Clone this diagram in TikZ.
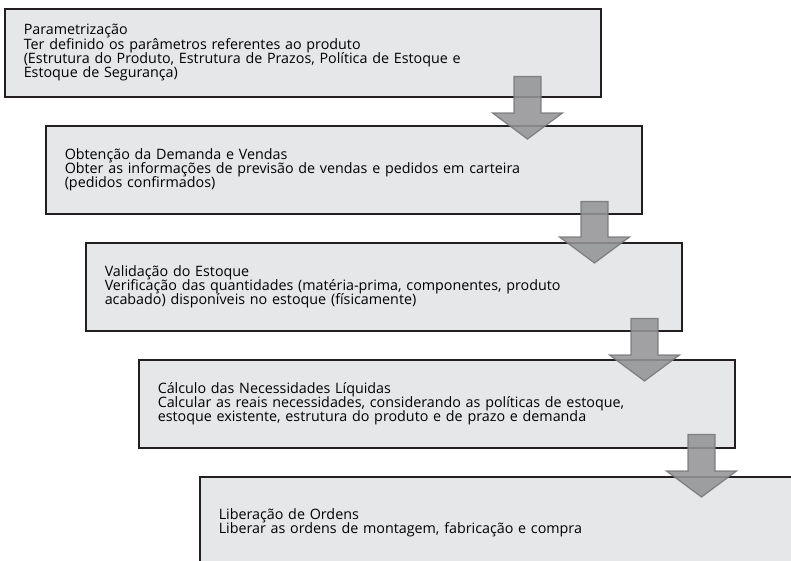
\documentclass[tikz,border=0pt]{standalone}
\usepackage{fontspec}
\setmainfont{Open Sans}
\usepackage{xcolor}
\usetikzlibrary{positioning,calc}
\definecolor{boxfill}{HTML}{E6E7E8}
\definecolor{boxline}{HTML}{231F20}
\definecolor{arrowfill}{HTML}{949496}
\definecolor{arrowline}{HTML}{767678}

% seta larga entre duas etapas
\newcommand{\bigarrow}[5]{%
  \draw[flowarrow] let \p1=($(#1.south east)+(#3,-#4)$), \p2=($(#2.north)+(0,#5)$) in
    (\x1-13.5pt,\y1) -- (\x1+13.5pt,\y1) -- (\x1+13.5pt,\y2+26pt) -- (\x1+35pt,\y2+26pt)
    -- (\x1,\y2) -- (\x1-35pt,\y2+26pt) -- (\x1-13.5pt,\y2+26pt) -- cycle;}

\begin{document}
\begin{tikzpicture}[
    x=1pt, y=-1pt,
    stepbox/.style={rectangle, draw=boxline, fill=boxfill, line width=1.5pt, anchor=north west,
      minimum width=596pt, minimum height=88pt, text width=558pt, inner xsep=18pt,
      align=left, font=\fontsize{14.3}{14.4}\selectfont},
    flowarrow/.style={draw=arrowline, fill=arrowfill, line width=1.2pt, opacity=0.88}
]
\useasboundingbox (0,0) rectangle (791,560);
\clip (0,0) rectangle (791,560);

% etapas
\node[stepbox] (param) at (4,8) {Parametrização\\
  Ter definido os parâmetros referentes ao produto\\
  (Estrutura do Produto, Estrutura de Prazos, Política de Estoque e\\
  Estoque de Segurança)};
\node[stepbox] (demanda) at (45,125) {Obtenção da Demanda e Vendas\\
  Obter as informações de previsão de vendas e pedidos em carteira\\
  (pedidos confirmados)};
\node[stepbox] (estoque) at (85,242) {Validação do Estoque\\
  Verificação das quantidades (matéria-prima, componentes, produto\\
  acabado) disponíveis no estoque (físicamente)};
\node[stepbox] (calculo) at (138,359) {Cálculo das Necessidades Líquidas\\
  Calcular as reais necessidades, considerando as políticas de estoque,\\
  estoque existente, estrutura do produto e de prazo e demanda};
\node[stepbox, minimum height=92pt] (ordens) at (199,476) {Liberação de Ordens\\
  Liberar as ordens de montagem, fabricação e compra};

% setas
\bigarrow{param}{demanda}{-74}{21}{14}
\bigarrow{demanda}{estoque}{-48}{13}{21}
\bigarrow{estoque}{calculo}{-38}{13}{22}
\bigarrow{calculo}{ordens}{-34}{14}{21}

\end{tikzpicture}
\end{document}
